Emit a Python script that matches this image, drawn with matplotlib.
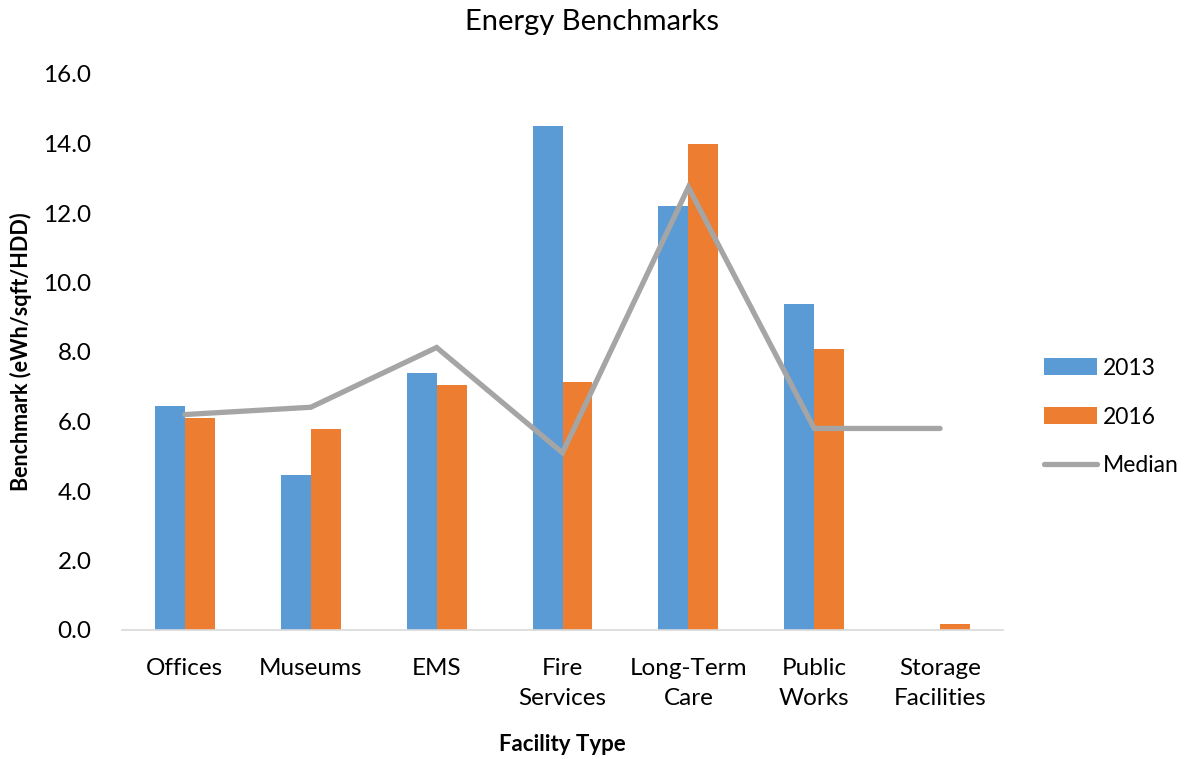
import numpy as np
import matplotlib.pyplot as plt

plt.rcParams['font.family'] = ['Lato', 'DejaVu Sans']

categories = ["Offices", "Museums", "EMS", "Fire\nServices", "Long-Term\nCare",
              "Public\nWorks", "Storage\nFacilities"]
vals_2013 = [6.45, 4.45, 7.39, 14.51, 12.2, 9.37, 0.0]
vals_2016 = [6.1, 5.78, 7.04, 7.15, 14.0, 8.09, 0.17]
median = [6.2, 6.41, 8.13, 5.1, 12.74, 5.8, 5.8]

blue = "#5B9BD5"
orange = "#ED7D31"
gray = "#A5A5A5"

fig = plt.figure(figsize=(11.95, 7.59), dpi=100)
ax = fig.add_axes([122/1195, 129/759, 881/1195, 556/759])

x = np.arange(len(categories))
w = 0.238
b1 = ax.bar(x - w/2, vals_2013, w, color=blue, label="2013")
b2 = ax.bar(x + w/2, vals_2016, w, color=orange, label="2016")
ln, = ax.plot(x, median, color=gray, lw=3.8, solid_capstyle='round',
              solid_joinstyle='miter', label="Median")

ax.set_xlim(-0.5, len(categories) - 0.5)
ax.set_ylim(0, 16)
ax.set_yticks(np.arange(0, 17, 2))
ax.set_yticklabels([f"{v:.1f}" for v in np.arange(0, 17, 2)], fontsize=17.5)
ax.set_xticks(x)
ax.set_xticklabels(categories, fontsize=17.5, linespacing=1.55)
ax.tick_params(axis="x", length=0, pad=20)
ax.tick_params(axis="y", length=0, pad=22)
for s in ["top", "right", "left"]:
    ax.spines[s].set_visible(False)
ax.spines["bottom"].set_color("#D9D9D9")
ax.spines["bottom"].set_linewidth(1.2)

ax.set_xlabel("Facility Type", fontsize=16, fontweight="bold", labelpad=18)
ax.set_ylabel("Benchmark (eWh/sqft/HDD)", fontsize=15.5, fontweight="bold", labelpad=8)
fig.text(592/1195, 1 - 22/759, "Energy Benchmarks", fontsize=21, ha="center", va="center")

fig.legend(handles=[b1, b2, ln], loc="center left", bbox_to_anchor=(1044/1195, 1 - 417/759),
           frameon=False, fontsize=16.5, handlelength=2.3, handleheight=0.8, labelspacing=1.22,
           handletextpad=0.25, borderpad=0, borderaxespad=0)

fig.savefig("out.png", dpi=100)
